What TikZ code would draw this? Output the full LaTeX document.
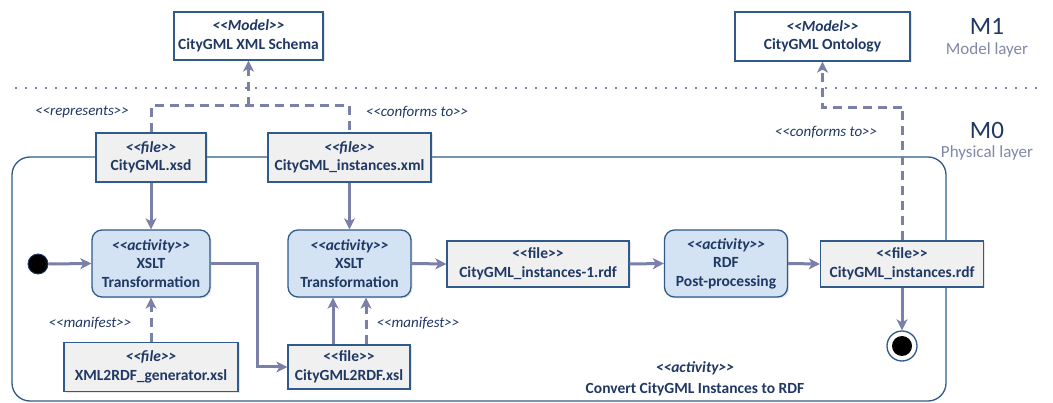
\documentclass[tikz,border=0pt]{standalone}
\usepackage{fontspec}
\setmainfont{Carlito}
\usetikzlibrary{arrows.meta,shadows}
\definecolor{navy}{HTML}{1F3864}
\definecolor{bord}{HTML}{2F5A8A}
\definecolor{filefill}{HTML}{F0F0F0}
\definecolor{actfill}{HTML}{D3E3F3}
\definecolor{arr}{HTML}{7B80A8}
\definecolor{graytxt}{HTML}{8088AA}
\tikzset{
  base/.style={draw=bord, line width=1.3pt, text=navy, align=center, inner sep=0pt,
    font=\fontsize{15.5}{18.5}\selectfont\bfseries,
    drop shadow={opacity=0.2, shadow xshift=1.5pt, shadow yshift=-1.5pt}},
  modelbox/.style={base, fill=white},
  filebox/.style={base, fill=filefill},
  actbox/.style={base, fill=actfill, rounded corners=10pt},
  flow/.style={draw=arr, line width=3pt, -{Stealth[length=11pt,width=11pt,inset=3pt]}},
  dep/.style={draw=arr, line width=3pt, dash pattern=on 9pt off 6pt},
  deparr/.style={dep, -{Stealth[length=11pt,width=11pt,inset=3pt]}},
  lbl/.style={text=navy, font=\fontsize{15}{18}\selectfont\itshape},
}
\newcommand{\gl}{<{}<}
\newcommand{\gr}{>{}>}
\newcommand{\st}[1]{\textit{\gl#1\gr}}
\begin{document}
\begin{tikzpicture}[x=1pt,y=-1pt]
\useasboundingbox (0,0) rectangle (1053,403);
% container
\draw[bord, line width=1.3pt, rounded corners=18pt] (12,157) rectangle (946,401);
% layer separator
\draw[arr, line width=2pt, dash pattern=on 2pt off 8pt] (15,88) -- (1040,88);
% layer labels
\node[text=navy, font=\fontsize{25}{27}\selectfont] (m1) at (987,26) {M1};
\node[text=graytxt, font=\fontsize{17}{19}\selectfont] (ml) at (987,50) {Model layer};
\node[text=navy, font=\fontsize{25}{27}\selectfont] (m0) at (987,130) {M0};
\node[text=graytxt, font=\fontsize{17}{19}\selectfont] (pl) at (987,153) {Physical layer};
% model boxes
\node[modelbox, minimum width=149pt, minimum height=48pt] (schema) at (248.5,36) {\st{Model}\\CityGML XML Schema};
\node[modelbox, minimum width=175pt, minimum height=49pt] (onto) at (822.5,36.5) {\st{Model}\\CityGML Ontology};
% files
\node[filebox, minimum width=110pt, minimum height=49pt] (xsd) at (151,157.5) {\st{file}\\CityGML.xsd};
\node[filebox, minimum width=163pt, minimum height=49pt] (xml) at (349.5,157.5) {\st{file}\\CityGML\_instances.xml};
\node[filebox, minimum width=174pt, minimum height=49pt] (gen) at (151,367) {\st{file}\\XML2RDF\_generator.xsl};
\node[filebox, minimum width=122pt, minimum height=44pt] (xsl) at (349,367) {\gl file\gr\\CityGML2RDF.xsl};
\node[filebox, minimum width=182pt, minimum height=46pt] (rdfa) at (538,264) {\gl file\gr\\CityGML\_instances-1.rdf};
\node[filebox, minimum width=163pt, minimum height=46pt] (rdf) at (902,264) {\gl file\gr\\CityGML\_instances.rdf};
% activities
\node[actbox, minimum width=118pt, minimum height=67pt] (act1) at (151,263.5) {\st{activity}\\XSLT\\Transformation};
\node[actbox, minimum width=123pt, minimum height=67pt] (act2) at (349.5,263.5) {\st{activity}\\XSLT\\Transformation};
\node[actbox, minimum width=123pt, minimum height=67pt] (post) at (726,263.5) {\st{activity}\\RDF\\Post-processing};
% initial / final
\node[circle, fill=black, draw=navy, line width=0.8pt, minimum size=20pt, inner sep=0pt] (init) at (38,264) {};
\node[circle, fill=white, draw=bord, line width=1.3pt, minimum size=30pt, inner sep=0pt] (final) at (902,346) {};
\node[circle, fill=black, minimum size=20pt, inner sep=0pt] (finalin) at (902,346) {};
% coordinates
\coordinate (j1) at (248.5,106);
\coordinate (b1) at (257,263.5);
\coordinate (j2) at (902,108);
% flows
\draw[flow] (xsd.south) -- (act1.north);
\draw[flow] (xml.south) -- (act2.north);
\draw[flow] (init.east) -- (act1.west);
\draw[flow] (act1.east) -- (b1) |- (xsl.west);
\draw[flow] ([xshift=-16pt]xsl.north) -- ([xshift=-16pt]xsl.north |- act2.south);
\draw[deparr] ([xshift=17pt]xsl.north) -- ([xshift=17pt]xsl.north |- act2.south);
\draw[deparr] (gen.north) -- (act1.south);
\draw[flow] (act2.east) -- (rdfa.west);
\draw[flow] (rdfa.east) -- (post.west);
\draw[flow] (post.east) -- (rdf.west);
\draw[flow] (rdf.south) -- (final.north);
% dependencies to model layer
\draw[dep] (xsd.north) |- (j1) -| (xml.north);
\draw[deparr] (j1) -- (schema.south);
\draw[dep] (rdf.north) -- (j2);
\draw[deparr] (j2) -| (onto.south);
% labels
\node[lbl] (l1) at (82,112) {\gl represents\gr};
\node[lbl] (l2) at (417,112) {\gl conforms to\gr};
\node[lbl] (l3) at (826,132) {\gl conforms to\gr};
\node[lbl] (l4) at (90,323) {\gl manifest\gr};
\node[lbl] (l5) at (418,323) {\gl manifest\gr};
\node[text=navy, align=center, font=\fontsize{15.5}{21}\selectfont\bfseries] (title) at (695,378.5) {\st{activity}\\Convert CityGML Instances to RDF};
\end{tikzpicture}
\end{document}
